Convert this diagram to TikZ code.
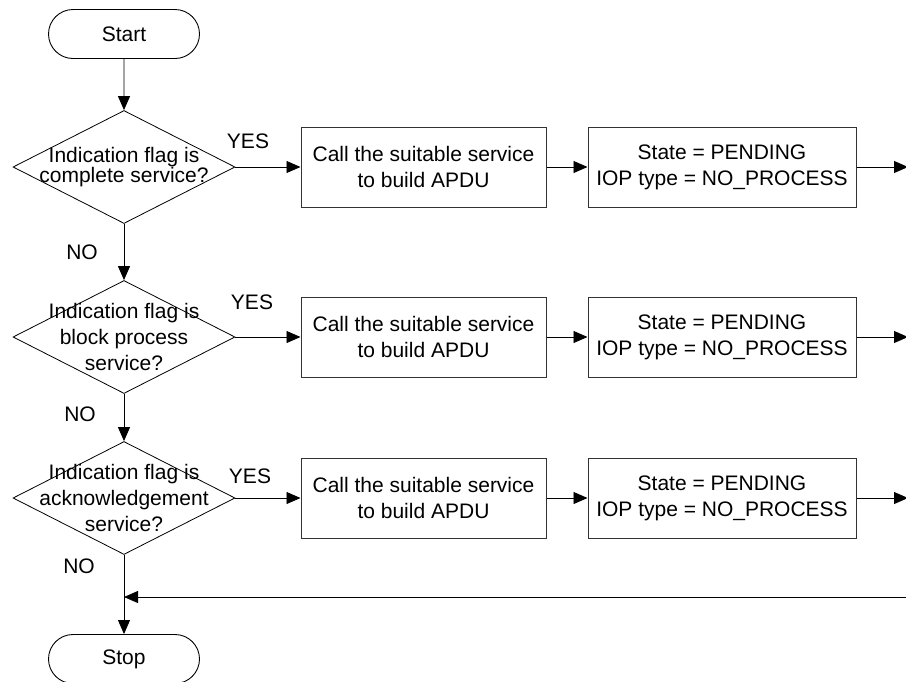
\documentclass[tikz,border=0pt]{standalone}
\usepackage{fontspec}
\setmainfont{Liberation Sans}
\usetikzlibrary{arrows.meta,shapes.geometric,shapes.misc}
\begin{document}
\begin{tikzpicture}[x=1pt,y=-1pt,
  every node/.style={font=\fontsize{21}{26}\selectfont},
  terminal/.style={draw, rounded rectangle, minimum width=151pt, minimum height=49pt, inner sep=0pt, line width=0.9pt},
  decision/.style={draw, diamond, minimum width=222pt, minimum height=113pt, inner sep=0pt, line width=0.8pt},
  process/.style={draw=black!80, line width=1pt, minimum height=80pt, inner sep=0pt, align=center},
  flow/.style={line width=0.9pt, -{Triangle[length=14pt,width=12pt]}},
  lbl/.style={inner sep=0pt}
]
\useasboundingbox (0,0) rectangle (906,681);

% terminals
\node[terminal] (start) at (124,34) {Start};
\node[terminal] (stop) at (124,659) {Stop};

% decisions
\node[decision, label={[align=center, font=\fontsize{21}{20}\selectfont]center:{Indication flag is\\complete service?}}] (d1) at (124,167) {};
\node[decision, label={[align=center, font=\fontsize{21}{26}\selectfont]center:{Indication flag is\\block process\\service?}}] (d2) at (124,337) {};
\node[decision, label={[align=center, font=\fontsize{21}{26}\selectfont]center:{Indication flag is\\acknowledgement\\service?}}] (d3) at (124,498) {};

% actions of each row
\node[process, minimum width=245pt] (c1) at (423.5,167) {Call the suitable service\\to build APDU};
\node[process, minimum width=268pt] (s1) at (722,167) {State = PENDING\\IOP type = NO\_PROCESS};
\node[process, minimum width=245pt] (c2) at (423.5,337) {Call the suitable service\\to build APDU};
\node[process, minimum width=268pt] (s2) at (722,337) {State = PENDING\\IOP type = NO\_PROCESS};
\node[process, minimum width=245pt] (c3) at (423.5,498) {Call the suitable service\\to build APDU};
\node[process, minimum width=268pt] (s3) at (722,498) {State = PENDING\\IOP type = NO\_PROCESS};

% free ends on the right edge and the return line
\coordinate (e1) at (908,167);
\coordinate (e2) at (908,337);
\coordinate (e3) at (908,498);
\coordinate (backR) at (906,597);
\coordinate (backL) at (124,597);

% main column
\draw[flow] (start) -- (d1);
\draw[flow] (d1) -- (d2);
\draw[flow] (d2) -- (d3);
\draw[flow] (d3) -- (stop);

% rows
\draw[flow] (d1.east) -- (c1);
\draw[flow] (c1) -- (s1);
\draw[flow] (s1) -- (e1);
\draw[flow] (d2.east) -- (c2);
\draw[flow] (c2) -- (s2);
\draw[flow] (s2) -- (e2);
\draw[flow] (d3.east) -- (c3);
\draw[flow] (c3) -- (s3);
\draw[flow] (s3) -- (e3);

% return line
\draw[flow] (backR) -- (backL);

% branch labels
\node[lbl] (y1) at (248,141) {YES};
\node[lbl] (y2) at (252,302) {YES};
\node[lbl] (y3) at (250,476) {YES};
\node[lbl] (n1) at (82,252) {NO};
\node[lbl] (n2) at (80,414) {NO};
\node[lbl] (n3) at (79,566) {NO};
\end{tikzpicture}
\end{document}
